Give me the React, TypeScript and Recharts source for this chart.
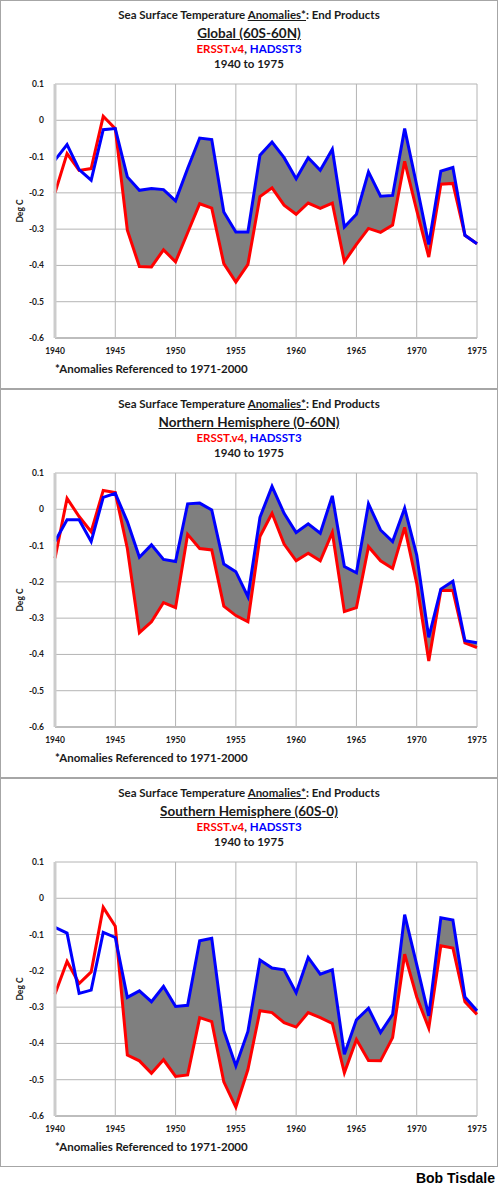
import React from 'react';
import { ComposedChart, Line, Area, XAxis, YAxis, CartesianGrid } from 'recharts';

const years = [
    1940, 1941, 1942, 1943, 1944, 1945, 1946, 1947, 1948, 1949,
    1950, 1951, 1952, 1953, 1954, 1955, 1956, 1957, 1958, 1959,
    1960, 1961, 1962, 1963, 1964, 1965, 1966, 1967, 1968, 1969,
    1970, 1971, 1972, 1973, 1974, 1975,
];

const xTicks = [1940, 1945, 1950, 1955, 1960, 1965, 1970, 1975];
const yTicks = [-0.6, -0.5, -0.4, -0.3, -0.2, -0.1, 0, 0.1];
const fillStart = 1945;

const globalErsst = [
    -0.2, -0.092, -0.138, -0.133, 0.011, -0.023, -0.303, -0.403, -0.404, -0.357,
    -0.39, -0.31, -0.23, -0.242, -0.395, -0.446, -0.397, -0.21, -0.186, -0.234,
    -0.259, -0.228, -0.243, -0.228, -0.39, -0.342, -0.298, -0.309, -0.289, -0.113,
    -0.248, -0.377, -0.176, -0.174, -0.317, -0.34,
];
const globalHadsst = [
    -0.11, -0.067, -0.136, -0.165, -0.026, -0.023, -0.156, -0.193, -0.188, -0.191,
    -0.222, -0.133, -0.049, -0.053, -0.253, -0.308, -0.308, -0.096, -0.06, -0.103,
    -0.161, -0.103, -0.138, -0.08, -0.294, -0.259, -0.142, -0.209, -0.207, -0.023,
    -0.179, -0.342, -0.14, -0.13, -0.317, -0.34,
];

const nhErsst = [
    -0.135, 0.03, -0.02, -0.062, 0.052, 0.046, -0.108, -0.34, -0.31, -0.257,
    -0.271, -0.069, -0.108, -0.112, -0.267, -0.293, -0.31, -0.075, -0.011, -0.096,
    -0.142, -0.121, -0.142, -0.064, -0.282, -0.271, -0.103, -0.142, -0.163, -0.05,
    -0.204, -0.418, -0.224, -0.224, -0.368, -0.381,
];
const nhHadsst = [
    -0.089, -0.029, -0.029, -0.089, 0.033, 0.044, -0.034, -0.132, -0.098, -0.138,
    -0.144, 0.015, 0.017, -0.002, -0.151, -0.172, -0.241, -0.022, 0.063, -0.011,
    -0.064, -0.04, -0.066, 0.037, -0.158, -0.175, 0.015, -0.057, -0.089, 0.003,
    -0.126, -0.353, -0.22, -0.198, -0.362, -0.368,
];

const shErsst = [
    -0.264, -0.174, -0.235, -0.203, -0.025, -0.077, -0.432, -0.448, -0.482, -0.445,
    -0.491, -0.487, -0.329, -0.34, -0.506, -0.576, -0.472, -0.31, -0.315, -0.343,
    -0.355, -0.315, -0.329, -0.345, -0.481, -0.389, -0.447, -0.448, -0.384, -0.154,
    -0.272, -0.358, -0.131, -0.137, -0.285, -0.32,
];
const shHadsst = [
    -0.08, -0.096, -0.262, -0.253, -0.094, -0.108, -0.273, -0.255, -0.285, -0.243,
    -0.298, -0.295, -0.117, -0.11, -0.364, -0.462, -0.367, -0.17, -0.192, -0.197,
    -0.26, -0.163, -0.209, -0.197, -0.43, -0.335, -0.303, -0.37, -0.32, -0.045,
    -0.183, -0.324, -0.054, -0.06, -0.272, -0.31,
];

const panels = [
    { region: 'Global (60S-60N)', ersst: globalErsst, hadsst: globalHadsst },
    { region: 'Northern Hemisphere (0-60N)', ersst: nhErsst, hadsst: nhHadsst },
    { region: 'Southern Hemisphere (60S-0)', ersst: shErsst, hadsst: shHadsst },
];

const PANEL_W = 498;
const PANEL_H = 389;
const FONT = 'Lato, "Open Sans", sans-serif';

function formatY(v: number) {
    if (Math.abs(v) < 1e-9) return '0';
    return String(Math.round(v * 10) / 10);
}

interface PanelProps {
    region: string;
    ersst: number[];
    hadsst: number[];
    top: number;
}

function Panel({ region, ersst, hadsst, top }: PanelProps) {
    const data = years.map((year, i) => ({
        year,
        ersst: ersst[i],
        hadsst: hadsst[i],
        gap: year >= fillStart ? [ersst[i], hadsst[i]] : null,
    }));

    return (
        <div style={{ ...styles.panel, top }}>
            <div style={{ ...styles.line1, top: 8 }}>
                Sea Surface Temperature <span style={{ textDecoration: 'underline' }}>Anomalies*</span>: End Products
            </div>
            <div style={{ ...styles.line2, top: 24 }}>{region}</div>
            <div style={{ ...styles.line1, top: 42 }}>
                <span style={{ color: '#ff0000' }}>ERSST.v4</span>, <span style={{ color: '#0000ff' }}>HADSST3</span>
            </div>
            <div style={{ ...styles.line1, top: 57 }}>1940 to 1975</div>
            <div style={styles.yLabel}>Deg C</div>
            <div style={styles.note}>*Anomalies Referenced to 1971-2000</div>
            <div style={styles.chartBox}>
                <ComposedChart
                    width={PANEL_W}
                    height={PANEL_H}
                    data={data}
                    margin={{ top: 84, right: 21, bottom: 31, left: 25 }}
                >
                    <CartesianGrid stroke="#b4b4b4" strokeWidth={1} />
                    <XAxis
                        dataKey="year"
                        type="number"
                        domain={[1940, 1975]}
                        ticks={xTicks}
                        height={20}
                        tickLine={false}
                        tickSize={0}
                        tickMargin={10}
                        axisLine={{ stroke: '#bdbdbd', strokeWidth: 2 }}
                        tick={{ fill: '#1a1a1a', fontSize: 8.5, fontWeight: 700, fontFamily: FONT }}
                        interval={0}
                    />
                    <YAxis
                        type="number"
                        domain={[-0.6, 0.1]}
                        ticks={yTicks}
                        width={30}
                        tickLine={false}
                        tickSize={0}
                        tickMargin={11}
                        tickFormatter={formatY}
                        axisLine={{ stroke: '#cccccc', strokeWidth: 3 }}
                        tick={{ fill: '#1a1a1a', fontSize: 8.5, fontWeight: 700, fontFamily: FONT }}
                        interval={0}
                        allowDataOverflow
                    />
                    <Area
                        dataKey="gap"
                        type="linear"
                        fill="#7f7f7f"
                        fillOpacity={1}
                        stroke="none"
                        isAnimationActive={false}
                        dot={false}
                        activeDot={false}
                    />
                    <Line
                        dataKey="ersst"
                        type="linear"
                        stroke="#ff0000"
                        strokeWidth={3}
                        dot={false}
                        activeDot={false}
                        isAnimationActive={false}
                    />
                    <Line
                        dataKey="hadsst"
                        type="linear"
                        stroke="#0000ff"
                        strokeWidth={3}
                        dot={false}
                        activeDot={false}
                        isAnimationActive={false}
                    />
                </ComposedChart>
            </div>
        </div>
    );
}

export default function App() {
    return (
        <div style={styles.page}>
            {panels.map((p, i) => (
                <Panel key={p.region} region={p.region} ersst={p.ersst} hadsst={p.hadsst} top={i * PANEL_H} />
            ))}
            <div style={styles.signature}>Bob Tisdale</div>
        </div>
    );
}

const styles: Record<string, React.CSSProperties> = {
    page: {
        position: 'absolute',
        left: 0,
        top: 0,
        width: 500,
        height: 1188,
        background: '#ffffff',
        overflow: 'hidden',
    },
    panel: {
        position: 'absolute',
        left: 0,
        width: PANEL_W,
        height: PANEL_H,
        boxShadow: 'inset 0 0 0 1px #a6a6a6',
        fontFamily: FONT,
    },
    chartBox: {
        position: 'absolute',
        left: 0,
        top: 0,
    },
    line1: {
        position: 'absolute',
        left: 0,
        width: PANEL_W,
        textAlign: 'center',
        fontSize: 11.5,
        fontWeight: 700,
        lineHeight: '14px',
        color: '#1a1a1a',
        whiteSpace: 'nowrap',
    },
    line2: {
        position: 'absolute',
        left: 0,
        width: PANEL_W,
        textAlign: 'center',
        fontSize: 13.5,
        fontWeight: 700,
        lineHeight: '18px',
        color: '#1a1a1a',
        textDecoration: 'underline',
        whiteSpace: 'nowrap',
    },
    yLabel: {
        position: 'absolute',
        left: 20,
        top: 211,
        transform: 'translate(-50%, -50%) rotate(-90deg)',
        fontSize: 8.5,
        fontWeight: 700,
        color: '#1a1a1a',
        whiteSpace: 'nowrap',
    },
    note: {
        position: 'absolute',
        left: 55,
        top: 362,
        fontSize: 11.5,
        fontWeight: 700,
        lineHeight: '14px',
        color: '#1a1a1a',
        whiteSpace: 'nowrap',
    },
    signature: {
        position: 'absolute',
        right: 5,
        top: 1170,
        fontFamily: '"Liberation Sans", Arial, sans-serif',
        fontSize: 14,
        fontWeight: 700,
        lineHeight: '16px',
        color: '#000000',
    },
};
